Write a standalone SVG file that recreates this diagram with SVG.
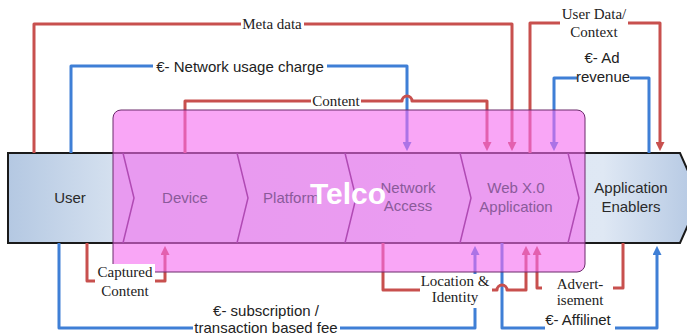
<svg xmlns="http://www.w3.org/2000/svg" width="687" height="335" viewBox="0 0 687 335">
<style>
.red{fill:none;stroke:#c8504e;stroke-width:3;stroke-linejoin:round}
.blue{fill:none;stroke:#3f7fd6;stroke-width:3;stroke-linejoin:round}
.bg{fill:#ffffff}
.serif{font-family:"Liberation Serif","Times New Roman",serif;font-size:15px;fill:#222;text-anchor:middle}
.sans{font-family:"Liberation Sans",Arial,sans-serif;font-size:15px;fill:#222;text-anchor:middle}
.chev{font-family:"Liberation Sans",Arial,sans-serif;font-size:15px;fill:#8a5a9a;text-anchor:middle}
.box{font-family:"Liberation Sans",Arial,sans-serif;font-size:15px;fill:#2a2a2a;text-anchor:middle}
.sep{fill:none;stroke:#4a1a5a;stroke-width:1.5}
</style>
<defs>
<linearGradient id="band" x1="0" y1="0" x2="1" y2="0">
<stop offset="0" stop-color="#b4c8e2"/>
<stop offset="0.15" stop-color="#d4e0ef"/>
<stop offset="0.86" stop-color="#dfe8f4"/>
<stop offset="1" stop-color="#b3c7e2"/>
</linearGradient>
<marker id="ar" viewBox="0 0 10 10" markerWidth="9" markerHeight="9" refX="1" refY="5" orient="auto" markerUnits="userSpaceOnUse">
<path d="M0,0 L10,5 L0,10 z" fill="#c8504e"/>
</marker>
<marker id="ab" viewBox="0 0 10 10" markerWidth="9" markerHeight="9" refX="1" refY="5" orient="auto" markerUnits="userSpaceOnUse">
<path d="M0,0 L10,5 L0,10 z" fill="#3f7fd6"/>
</marker>
</defs>
<rect width="687" height="335" fill="#ffffff"/>

<g id="band-shape">
<path d="M8,153 H680 L700,198 L680,243 H8 Z" fill="url(#band)" stroke="#1a1a1a" stroke-width="2"/>
<path class="sep" d="M123,153 L134,198 L123,243"/>
<path class="sep" d="M237,153 L248,198 L237,243"/>
<path class="sep" d="M345,153 L356,198 L345,243"/>
<path class="sep" d="M460,153 L471,198 L460,243"/>
<path class="sep" d="M568,153 L579,198 L568,243"/>
</g>

<g id="connectors">
<path class="red" d="M34,153 V24 H512 V143" marker-end="url(#ar)"/>
<path class="blue" d="M71,153 V66 H407 V143" marker-end="url(#ab)"/>
<path class="red" d="M185,153 V101 H402 a5,5 0 0 1 10,0 H487 V143" marker-end="url(#ar)"/>
<path class="red" d="M530,153 V23 H660 V143" marker-end="url(#ar)"/>
<path class="blue" d="M649,153 V78 H554 V143" marker-end="url(#ab)"/>
<path class="red" d="M87,243 V281 H165 V254" marker-end="url(#ar)"/>
<path class="blue" d="M59,243 V328 H475 V254" marker-end="url(#ab)"/>
<path class="blue" d="M502,243 V328 H657 V254" marker-end="url(#ab)"/>
<path class="red" d="M383,243 V290 H497 a5,5 0 0 1 10,0 H526 V254" marker-end="url(#ar)"/>
<path class="red" d="M623,243 V288 H537 V254" marker-end="url(#ar)"/>
</g>

<g id="top-labels">
<rect class="bg" x="241" y="16" width="63" height="16"/>
<text class="serif" x="272" y="29">Meta data</text>
<rect class="bg" x="153" y="58" width="174" height="18"/>
<text class="sans" x="240" y="71.5">€- Network usage charge</text>
<rect class="bg" x="311" y="94" width="50" height="15"/>
<text class="serif" x="336" y="106">Content</text>
<rect class="bg" x="560" y="5" width="68" height="37"/>
<text class="serif" x="594" y="19">User Data/</text>
<text class="serif" x="594" y="37">Context</text>
<rect class="bg" x="577" y="48" width="53" height="38"/>
<text class="sans" x="602" y="63">€- Ad</text>
<text class="sans" x="603" y="82">revenue</text>
</g>

<g id="node-telco">
<rect x="113" y="110" width="472" height="162" rx="8" ry="8" fill="#f56bf0" fill-opacity="0.6" stroke="#6a2a6a" stroke-width="1"/>
</g>

<g id="node-user"><text class="box" x="70" y="203">User</text></g>
<g id="node-device"><text class="chev" x="185" y="203">Device</text></g>
<g id="node-platform"><text class="chev" x="291" y="203">Platform</text></g>
<g id="node-network"><text class="chev" x="408" y="193">Network</text><text class="chev" x="408" y="211">Access</text></g>
<g id="node-web"><text class="chev" x="516" y="193">Web X.0</text><text class="chev" x="516" y="212">Application</text></g>
<g id="node-enablers"><text class="box" x="631" y="193">Application</text><text class="box" x="631" y="212">Enablers</text></g>

<g id="bottom-labels">
<rect class="bg" x="95" y="264" width="60" height="36"/>
<text class="serif" x="125" y="277">Captured</text>
<text class="serif" x="125" y="296">Content</text>
<rect class="bg" x="420" y="274" width="72" height="34"/>
<text class="serif" x="455" y="286">Location &amp;</text>
<text class="serif" x="455" y="302">Identity</text>
<rect class="bg" x="542" y="276" width="71" height="32"/>
<text class="serif" x="580" y="289">Advert-</text>
<text class="serif" x="580" y="305">isement</text>
<rect class="bg" x="545" y="311" width="70" height="21"/>
<text class="sans" x="578" y="325">€- Affilinet</text>
<rect class="bg" x="193" y="302" width="147" height="33"/>
<text class="sans" x="266" y="316">€- subscription /</text>
<text class="sans" x="266" y="333">transaction based fee</text>
</g>

<g id="label-telco"><text x="348" y="204" font-family="'Liberation Sans',Arial,sans-serif" font-size="30" font-weight="bold" fill="#ffffff" text-anchor="middle">Telco</text></g>
</svg>
